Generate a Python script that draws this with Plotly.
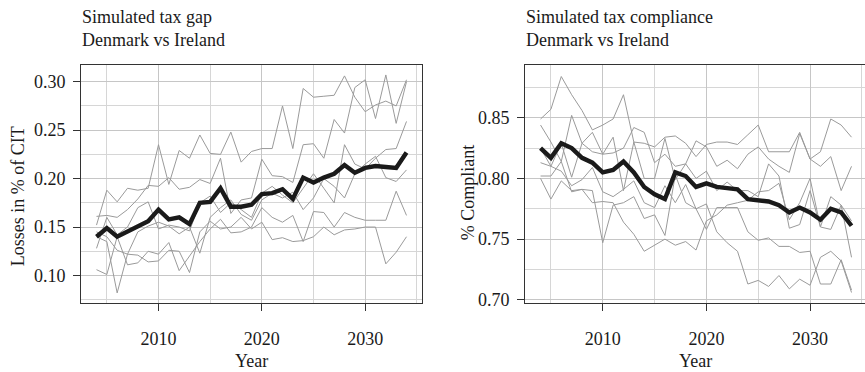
import plotly.graph_objects as go

years = list(range(2004, 2035))

# ---- Left panel: simulated tax gap (share of CIT) ----
gap_mean = [0.140, 0.149, 0.140, 0.145, 0.150, 0.156, 0.168, 0.158, 0.160, 0.153,
            0.175, 0.176, 0.190, 0.171, 0.171, 0.173, 0.184, 0.185, 0.189, 0.179,
            0.201, 0.196, 0.201, 0.205, 0.214, 0.206, 0.211, 0.213, 0.212, 0.211, 0.227]

gap_sim1 = [0.152, 0.188, 0.176, 0.190, 0.188, 0.190, 0.235, 0.194, 0.229, 0.221,
            0.245, 0.226, 0.225, 0.248, 0.217, 0.228, 0.231, 0.231, 0.275, 0.231,
            0.293, 0.284, 0.285, 0.286, 0.306, 0.284, 0.269, 0.276, 0.280, 0.275, 0.302]
gap_sim2 = [0.161, 0.162, 0.160, 0.168, 0.179, 0.193, 0.192, 0.201, 0.189, 0.191,
            0.199, 0.195, 0.221, 0.164, 0.178, 0.180, 0.220, 0.203, 0.202, 0.196,
            0.235, 0.236, 0.221, 0.261, 0.247, 0.294, 0.302, 0.262, 0.307, 0.257, 0.300]
gap_sim3 = [0.128, 0.160, 0.142, 0.150, 0.170, 0.176, 0.148, 0.152, 0.150, 0.146,
            0.175, 0.182, 0.165, 0.175, 0.168, 0.160, 0.185, 0.192, 0.183, 0.175,
            0.190, 0.205, 0.190, 0.175, 0.235, 0.215, 0.210, 0.221, 0.230, 0.231, 0.259]
gap_sim4 = [0.145, 0.140, 0.126, 0.122, 0.145, 0.151, 0.155, 0.151, 0.143, 0.150,
            0.123, 0.160, 0.170, 0.178, 0.163, 0.157, 0.178, 0.185, 0.180, 0.186,
            0.168, 0.180, 0.200, 0.192, 0.180, 0.205, 0.215, 0.223, 0.201, 0.197, 0.209]
gap_sim5 = [0.106, 0.101, 0.140, 0.111, 0.113, 0.125, 0.122, 0.134, 0.105, 0.120,
            0.135, 0.148, 0.158, 0.144, 0.145, 0.150, 0.170, 0.160, 0.155, 0.162,
            0.135, 0.166, 0.165, 0.150, 0.165, 0.160, 0.157, 0.157, 0.157, 0.187, 0.162]
gap_sim6 = [0.140, 0.135, 0.082, 0.122, 0.121, 0.114, 0.115, 0.126, 0.125, 0.103,
            0.145, 0.156, 0.148, 0.150, 0.160, 0.148, 0.155, 0.137, 0.139, 0.135,
            0.136, 0.140, 0.150, 0.142, 0.147, 0.148, 0.150, 0.150, 0.112, 0.124, 0.140]

# ---- Right panel: simulated tax compliance ----
comp_mean = [0.825, 0.817, 0.829, 0.825, 0.817, 0.813, 0.805, 0.807, 0.814, 0.805,
             0.793, 0.787, 0.783, 0.805, 0.802, 0.793, 0.796, 0.793, 0.792, 0.791,
             0.783, 0.782, 0.781, 0.778, 0.772, 0.776, 0.772, 0.766, 0.775, 0.772, 0.761]

comp_sim1 = [0.849, 0.857, 0.884, 0.869, 0.856, 0.840, 0.844, 0.849, 0.869, 0.830,
             0.829, 0.826, 0.834, 0.835, 0.829, 0.818, 0.828, 0.830, 0.830, 0.828,
             0.836, 0.844, 0.822, 0.822, 0.822, 0.838, 0.816, 0.822, 0.849, 0.844, 0.834]
comp_sim2 = [0.844, 0.830, 0.814, 0.852, 0.829, 0.822, 0.820, 0.821, 0.825, 0.842,
             0.838, 0.813, 0.820, 0.810, 0.812, 0.831, 0.826, 0.810, 0.815, 0.808,
             0.820, 0.826, 0.816, 0.810, 0.805, 0.837, 0.816, 0.810, 0.818, 0.790, 0.810]
comp_sim3 = [0.825, 0.810, 0.829, 0.801, 0.829, 0.838, 0.820, 0.834, 0.790, 0.830,
             0.800, 0.800, 0.833, 0.799, 0.812, 0.800, 0.806, 0.790, 0.797, 0.790,
             0.790, 0.785, 0.812, 0.802, 0.759, 0.762, 0.790, 0.760, 0.758, 0.778, 0.735]
comp_sim4 = [0.813, 0.810, 0.806, 0.794, 0.799, 0.809, 0.789, 0.785, 0.791, 0.798,
             0.780, 0.776, 0.794, 0.780, 0.795, 0.775, 0.758, 0.776, 0.776, 0.776,
             0.756, 0.749, 0.751, 0.744, 0.744, 0.739, 0.740, 0.713, 0.713, 0.733, 0.708]
comp_sim5 = [0.802, 0.802, 0.814, 0.789, 0.791, 0.790, 0.747, 0.778, 0.780, 0.785,
             0.767, 0.770, 0.753, 0.803, 0.780, 0.775, 0.779, 0.756, 0.747, 0.740,
             0.713, 0.716, 0.711, 0.720, 0.709, 0.717, 0.712, 0.735, 0.740, 0.732, 0.706]
comp_sim6 = [0.800, 0.783, 0.798, 0.790, 0.791, 0.780, 0.781, 0.780, 0.764, 0.754,
             0.740, 0.745, 0.750, 0.745, 0.748, 0.741, 0.765, 0.770, 0.778, 0.780,
             0.782, 0.789, 0.790, 0.796, 0.766, 0.780, 0.800, 0.760, 0.785, 0.778, 0.765]

gap_sims = [gap_sim1, gap_sim2, gap_sim3, gap_sim4, gap_sim5, gap_sim6]
comp_sims = [comp_sim1, comp_sim2, comp_sim3, comp_sim4, comp_sim5, comp_sim6]

FONT = "Liberation Serif"
TXT = "#1a1a1a"
GREY = "#9a9a9a"
FS = 18

fig = go.Figure()
for s in gap_sims:
    fig.add_trace(go.Scatter(x=years, y=s, mode="lines", line=dict(color=GREY, width=1),
                             xaxis="x", yaxis="y", showlegend=False, hoverinfo="skip"))
fig.add_trace(go.Scatter(x=years, y=gap_mean, mode="lines", line=dict(color="#1a1a1a", width=4.4),
                         xaxis="x", yaxis="y", showlegend=False))
for s in comp_sims:
    fig.add_trace(go.Scatter(x=years, y=s, mode="lines", line=dict(color=GREY, width=1),
                             xaxis="x2", yaxis="y2", showlegend=False, hoverinfo="skip"))
fig.add_trace(go.Scatter(x=years, y=comp_mean, mode="lines", line=dict(color="#1a1a1a", width=4.4),
                         xaxis="x2", yaxis="y2", showlegend=False))

W, H = 865, 372
def px(x):
    return x / W
def py(y):
    return 1 - y / H

ytop, ybot = 66, 309
common_x = dict(tickmode="linear", tick0=2010, dtick=10, ticks="outside", ticklen=7,
                tickcolor="#333333", tickwidth=1, showline=True, linecolor="#333333",
                linewidth=1, showgrid=True, gridcolor="#c6c6c6", gridwidth=1.2,
                minor=dict(dtick=5, tick0=2005, showgrid=True, gridcolor="#d6d6d6", gridwidth=1),
                zeroline=False, tickfont=dict(family=FONT, size=FS, color=TXT),
                ticklabelstandoff=12)
common_y = dict(ticks="outside", ticklen=7, tickcolor="#333333", tickwidth=1, showline=True,
                linecolor="#333333", linewidth=1, showgrid=True, gridcolor="#c6c6c6",
                gridwidth=1.2, zeroline=False, tickformat=".2f",
                tickfont=dict(family=FONT, size=FS, color=TXT), ticklabelstandoff=4)

fig.update_layout(
    width=W, height=H, margin=dict(l=0, r=0, t=0, b=0),
    paper_bgcolor="white", plot_bgcolor="white",
    xaxis=dict(domain=[px(81), px(422)], range=[2002.5, 2035.5], anchor="y", mirror=True, **common_x),
    yaxis=dict(domain=[py(ybot), py(ytop)], range=[0.0714, 0.3175], anchor="x", mirror=True,
               tick0=0.10, dtick=0.05,
               minor=dict(dtick=0.025, tick0=0.075, showgrid=True, gridcolor="#d6d6d6", gridwidth=1),
               **common_y),
    xaxis2=dict(domain=[px(525), 1.0], range=[2002.5, 2035.3], anchor="y2", mirror=True, **common_x),
    yaxis2=dict(domain=[py(ybot), py(ytop)], range=[0.6972, 0.8937], anchor="x2", mirror=False,
                tick0=0.70, dtick=0.05,
                minor=dict(dtick=0.025, tick0=0.675, showgrid=True, gridcolor="#d6d6d6", gridwidth=1),
                **common_y),
)

ann_font = dict(family=FONT, size=FS, color=TXT)
annotations = [
    dict(text="Simulated tax gap<br>Denmark vs Ireland", x=px(80), y=py(5), xref="paper", yref="paper",
         xanchor="left", yanchor="top", align="left", showarrow=False, font=ann_font),
    dict(text="Simulated tax compliance<br>Denmark vs Ireland", x=px(524), y=py(5), xref="paper",
         yref="paper", xanchor="left", yanchor="top", align="left", showarrow=False, font=ann_font),
    dict(text="Year", x=px(251.5), y=py(368), xref="paper", yref="paper", xanchor="center",
         yanchor="middle", showarrow=False, font=ann_font),
    dict(text="Year", x=px(695), y=py(368), xref="paper", yref="paper", xanchor="center",
         yanchor="middle", showarrow=False, font=ann_font),
    dict(text="Losses in % of CIT", x=px(18), y=py(200), xref="paper", yref="paper", xanchor="center",
         yanchor="middle", textangle=-90, showarrow=False, font=ann_font),
    dict(text="% Compliant", x=px(468), y=py(196), xref="paper", yref="paper", xanchor="center",
         yanchor="middle", textangle=-90, showarrow=False, font=ann_font),
]
fig.update_layout(annotations=annotations)

fig.write_html("out.html", config={"displayModeBar": False},
               post_script="document.body.style.margin='0px';")
